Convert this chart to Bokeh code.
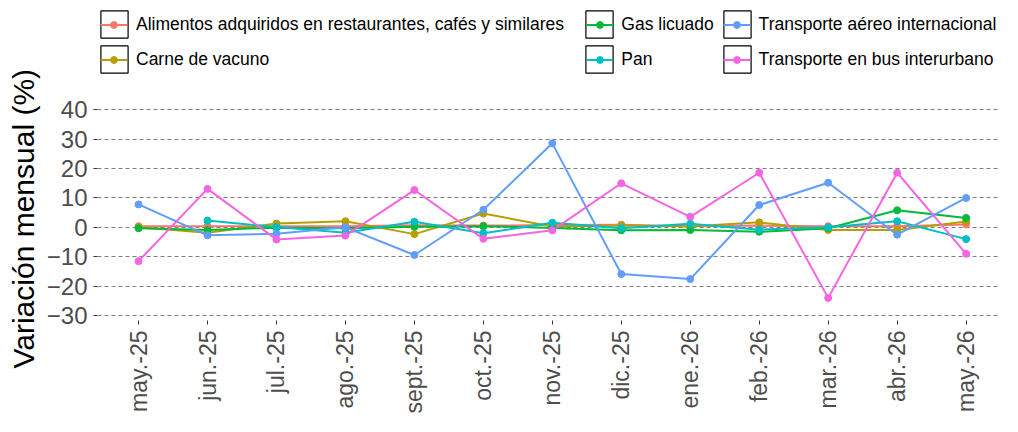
import numpy as np
from bokeh.plotting import figure
from bokeh.models import Range1d, FixedTicker, Legend, LegendItem, ColumnDataSource, Title
from bokeh.embed import file_html
from bokeh.resources import INLINE

months = ["may.-25", "jun.-25", "jul.-25", "ago.-25", "sept.-25", "oct.-25", "nov.-25",
          "dic.-25", "ene.-26", "feb.-26", "mar.-26", "abr.-26", "may.-26"]

alimentos = [0.4, 0.4, 0.4, 0.4, 0.7, 0.6, 0.8, 0.9, 0.4, 0.6, 0.4, 0.4, 1.0]
carne = [0.0, -1.8, 1.3, 2.1, -2.3, 4.7, 0.3, 0.6, 0.3, 1.7, -0.9, -0.9, 2.0]
gas = [-0.3, -0.9, -0.1, -0.3, 0.2, 0.4, -0.2, -1.0, -0.9, -1.5, -0.3, 5.8, 3.2]
pan = [np.nan, 2.3, 0.1, -1.8, 1.9, -2.0, 1.6, -0.3, 1.2, -0.8, 0.0, 2.1, -4.0]
aereo = [7.8, -2.7, -2.2, 0.0, -9.4, 6.0, 28.6, -15.9, -17.6, 7.6, 15.2, -2.5, 10.0]
bus = [-11.5, 13.1, -4.1, -2.8, 12.7, -3.9, -1.0, 15.0, 3.6, 18.6, -24.0, 18.6, -9.0]

names = ["Alimentos adquiridos en restaurantes, cafés y similares", "Carne de vacuno",
         "Gas licuado", "Pan", "Transporte aéreo internacional", "Transporte en bus interurbano"]
values = [alimentos, carne, gas, pan, aereo, bus]
colors = ["#F8766D", "#B79F00", "#00BA38", "#00BFC4", "#619CFF", "#F564E3"]
y_ticks = [-30, -20, -10, 0, 10, 20, 30, 40]

FONT = "Liberation Sans"

# frame spans from the top of the canvas so the legend (drawn inside it) is not clipped
p = figure(width=1002, height=416, output_backend="svg", toolbar_location=None,
           x_range=Range1d(-0.595, 12.484), y_range=Range1d(-31.70, 77.22),
           min_border_left=90, min_border_right=3, min_border_top=0, min_border_bottom=95)
p.outline_line_color = None
p.background_fill_color = "white"

sources = []
for v in values:
    sources.append(ColumnDataSource(dict(x=list(range(len(months))), y=v)))

boxes, lines, pts = [], [], []
for src, c in zip(sources, colors):
    boxes.append(p.rect(x="x", y="y", width=0, height=0, source=src, fill_color="white",
                        line_color="black", line_width=1.2, visible=False))
for src, c in zip(sources, colors):
    lines.append(p.line(x="x", y="y", source=src, line_color=c, line_width=2))
for src, c in zip(sources, colors):
    pts.append(p.scatter(x="x", y="y", source=src, size=7, fill_color=c, line_color=c))

# axes
p.xaxis.ticker = FixedTicker(ticks=list(range(len(months))))
p.xaxis.major_label_overrides = {i: m for i, m in enumerate(months)}
p.xaxis.major_label_orientation = np.pi / 2
p.yaxis.ticker = FixedTicker(ticks=y_ticks)
for ax in (p.xaxis, p.yaxis):
    ax.axis_line_color = None
    ax.major_tick_line_color = "#333333"
    ax.major_tick_out = 4
    ax.major_tick_in = 0
    ax.minor_tick_line_color = None
    ax.major_label_text_color = "#4D4D4D"
    ax.major_label_text_font = FONT
    ax.major_label_standoff = 6
p.xaxis.major_label_text_font_size = "23px"
p.yaxis.major_label_text_font_size = "24px"

p.add_layout(Title(text="Variación mensual (%)", align="left", offset=-48, standoff=8,
                   text_font=FONT, text_font_size="30px", text_font_style="normal",
                   text_color="black"), "left")

p.xgrid.visible = False
p.ygrid.grid_line_color = "#7f7f7f"
p.ygrid.grid_line_dash = "4 3"
p.ygrid.grid_line_width = 1

# legends: three columns, each with a box legend and a line+point legend overlaid
col_x = [0, 485.3, 622.6]
bottom_y = 244
for k in range(3):
    idx = [2 * k, 2 * k + 1]
    legA = Legend(items=[LegendItem(label=names[i], renderers=[boxes[i]]) for i in idx],
                  location=(col_x[k], bottom_y), orientation="vertical",
                  glyph_width=34, glyph_height=34, spacing=1, padding=0, margin=0,
                  border_line_color=None, background_fill_alpha=0,
                  label_text_font=FONT, label_text_font_size="17.5px", label_text_color="black",
                  label_standoff=5, label_height=20, inactive_fill_alpha=0)
    legB = Legend(items=[LegendItem(label=" ", renderers=[lines[i], pts[i]]) for i in idx],
                  location=(col_x[k] + 3.4, bottom_y), orientation="vertical",
                  glyph_width=27, glyph_height=17, spacing=1, padding=0, margin=0,
                  border_line_color=None, background_fill_alpha=0,
                  label_text_font=FONT, label_text_font_size="17.5px",
                  label_standoff=0, label_height=34, inactive_fill_alpha=0)
    p.add_layout(legA)
    p.add_layout(legB)

open("out.html", "w").write(file_html(p, INLINE))
